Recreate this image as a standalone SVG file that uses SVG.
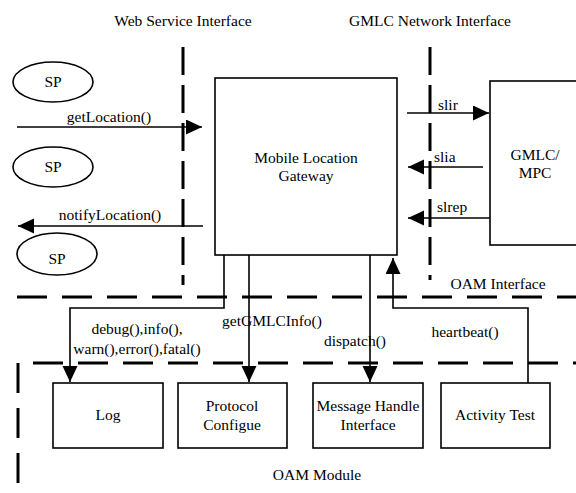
<svg xmlns="http://www.w3.org/2000/svg" width="576" height="493" viewBox="0 0 576 493" font-family="'Liberation Serif', 'Times New Roman', serif" font-size="15.5">
<defs>
<marker id="ah" markerUnits="userSpaceOnUse" markerWidth="17" markerHeight="16" refX="16" refY="7.5" orient="auto">
<path d="M0,0 L16,7.5 L0,15 z" fill="#000"/>
</marker>
<style>
text{font-family:'Liberation Serif','Times New Roman',serif;font-size:15.5px;fill:#000}
.c{text-anchor:middle}
.box{fill:#fff;stroke:#000;stroke-width:1.6}
.conn{fill:none;stroke:#000;stroke-width:1.6}
.arr{marker-end:url(#ah)}
.vd{fill:none;stroke:#000;stroke-width:3;stroke-dasharray:28 10}
.hd{fill:none;stroke:#000;stroke-width:3;stroke-dasharray:30 15}
</style>
</defs>
<rect width="576" height="493" fill="#fff"/>

<g id="boundaries">
<path class="vd" d="M183,47 L183,285"/>
<path class="vd" d="M430,47 L430,280"/>
<path class="hd" d="M17,297 L576,297"/>
<path class="hd" d="M18,483 L18,363 L576,363"/>
</g>

<g id="labels">
<text class="c" x="183" y="26">Web Service Interface</text>
<text class="c" x="430" y="26">GMLC Network Interface</text>
<text class="c" x="498" y="289">OAM Interface</text>
<text class="c" x="317" y="480">OAM Module</text>
</g>

<g id="sp1"><ellipse class="box" cx="53" cy="82" rx="40" ry="20"/><text class="c" x="53" y="87">SP</text></g>
<g id="sp2"><ellipse class="box" cx="53" cy="167" rx="40" ry="20"/><text class="c" x="53" y="172">SP</text></g>
<g id="sp3"><ellipse class="box" cx="57" cy="254" rx="40" ry="21"/><text class="c" x="57" y="264">SP</text></g>

<g id="gateway"><rect class="box" x="215" y="78" width="182" height="177"/><text class="c" x="306" y="163">Mobile Location</text><text class="c" x="306" y="181">Gateway</text></g>
<g id="gmlc"><rect class="box" x="490" y="81" width="95" height="164"/><text class="c" x="535" y="160">GMLC/</text><text class="c" x="535" y="178">MPC</text></g>

<g id="log"><rect class="box" x="53" y="383" width="110" height="65"/><text class="c" x="108" y="420">Log</text></g>
<g id="protocol"><rect class="box" x="178" y="383" width="109" height="65"/><text class="c" x="232" y="411">Protocol</text><text class="c" x="232" y="430">Configue</text></g>
<g id="message"><rect class="box" x="313" y="383" width="110" height="65"/><text class="c" x="368" y="411">Message Handle</text><text class="c" x="368" y="430">Interface</text></g>
<g id="activity"><rect class="box" x="441" y="383" width="109" height="65"/><text class="c" x="495" y="420">Activity Test</text></g>

<g id="connectors">
<path class="conn arr" d="M17,127 L202,127"/>
<text class="c" x="109" y="122">getLocation()</text>
<path class="conn arr" d="M203,226 L18,226"/>
<text class="c" x="110" y="220">notifyLocation()</text>
<path class="conn arr" d="M407,113 L489,113"/>
<text x="438" y="110">slir</text>
<path class="conn arr" d="M483,167 L408,167"/>
<text x="434" y="162">slia</text>
<path class="conn arr" d="M490,218 L408,218"/>
<text x="437" y="212">slrep</text>
<path class="conn arr" d="M224,255 L224,308 L70,308 L70,382"/>
<text class="c" x="137" y="334">debug(),info(),</text>
<text class="c" x="137" y="354">warn(),error(),fatal()</text>
<path class="conn arr" d="M249,255 L249,382"/>
<text class="c" x="272" y="326">getGMLCInfo()</text>
<path class="conn arr" d="M370,255 L370,382"/>
<text class="c" x="355" y="346">dispatch()</text>
<path class="conn arr" d="M528,383 L528,308 L393,308 L393,258"/>
<text class="c" x="465" y="337">heartbeat()</text>
</g>
</svg>
